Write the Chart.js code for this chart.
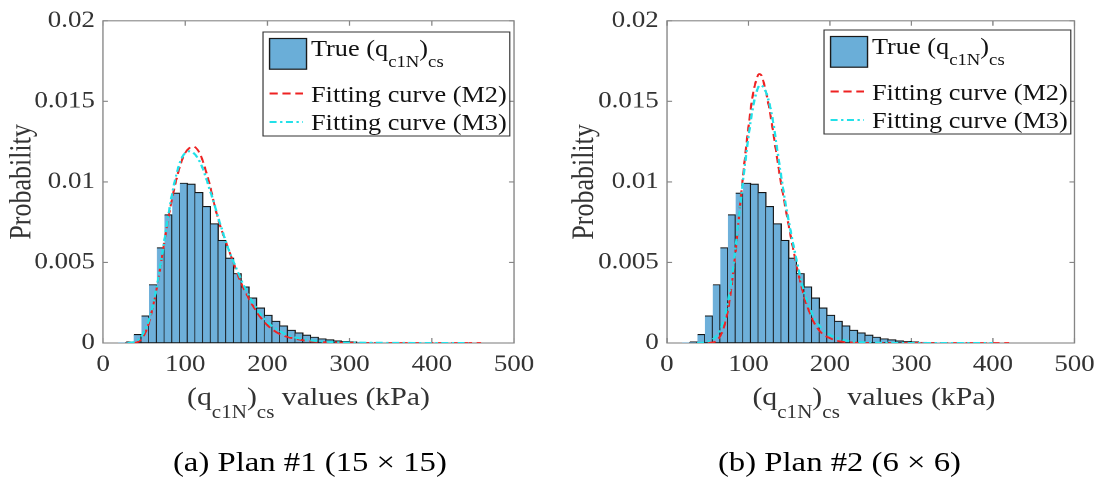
<!DOCTYPE html>
<html>
<head>
<meta charset="utf-8">
<script src="https://cdn.jsdelivr.net/npm/chart.js@4.4.1/dist/chart.umd.min.js"></script>
<style>
  html, body { margin: 0; padding: 0; background: #fff; }
  body { width: 1104px; height: 482px; overflow: hidden; position: relative; }
  /* the source figure is stretched sideways, so the whole thing is drawn narrow and scaled */
  #fig { position: absolute; left: 0; top: 0; width: 944px; height: 482px;
         transform: scaleX(1.16949); transform-origin: 0 0; }
  .panel { position: absolute; top: 0; width: 472px; height: 400px; }
  #overlay { position: absolute; left: 0; top: 0; }
  #overlay text { font-family: "Liberation Serif", "Times New Roman", serif; }
</style>
</head>
<body>
<div id="fig">
  <div class="panel" style="left:0"><canvas id="plan1" width="472" height="400"></canvas></div>
  <div class="panel" style="left:472px"><canvas id="plan2" width="472" height="400"></canvas></div>
  <svg id="overlay" width="944" height="482" viewBox="0 0 944 482">
    <!-- legend (a) -->
    <g transform="translate(224.9,32)">
      <rect x="0" y="0" width="211" height="104" fill="#fff" stroke="#333" stroke-width="1"/>
      <rect x="5.6" y="6.5" width="31.6" height="30.7" fill="#6aaed8" stroke="#1a1a1a" stroke-width="1.2"/>
      <text x="41" y="24.5" font-size="22.5" fill="#111">True (q<tspan font-size="16" dy="11">c1N</tspan><tspan dy="-11">)</tspan><tspan font-size="16" dy="11">cs</tspan></text>
      <line x1="5.6" y1="61.5" x2="34.2" y2="61.5" stroke="#ee2222" stroke-width="1.8" stroke-dasharray="7,4"/>
      <text x="41" y="70" font-size="22.5" fill="#111">Fitting curve (M2)</text>
      <line x1="5.6" y1="90" x2="34.2" y2="90" stroke="#22e0e8" stroke-width="2" stroke-dasharray="6,3,2,3"/>
      <text x="41" y="98.5" font-size="22.5" fill="#111">Fitting curve (M3)</text>
    </g>
    <!-- legend (b) -->
    <g transform="translate(704.6,30)">
      <rect x="0" y="0" width="211" height="104" fill="#fff" stroke="#333" stroke-width="1"/>
      <rect x="5.6" y="6.5" width="31.6" height="30.7" fill="#6aaed8" stroke="#1a1a1a" stroke-width="1.2"/>
      <text x="41" y="24.5" font-size="22.5" fill="#111">True (q<tspan font-size="16" dy="11">c1N</tspan><tspan dy="-11">)</tspan><tspan font-size="16" dy="11">cs</tspan></text>
      <line x1="5.6" y1="61.5" x2="34.2" y2="61.5" stroke="#ee2222" stroke-width="1.8" stroke-dasharray="7,4"/>
      <text x="41" y="70" font-size="22.5" fill="#111">Fitting curve (M2)</text>
      <line x1="5.6" y1="90" x2="34.2" y2="90" stroke="#22e0e8" stroke-width="2" stroke-dasharray="6,3,2,3"/>
      <text x="41" y="98.5" font-size="22.5" fill="#111">Fitting curve (M3)</text>
    </g>
    <!-- x axis titles -->
    <text x="263.8" y="405" font-size="25.5" fill="#333" text-anchor="middle">(q<tspan font-size="18" dy="13">c1N</tspan><tspan dy="-13">)</tspan><tspan font-size="18" dy="13">cs</tspan><tspan dy="-13"> values (kPa)</tspan></text>
    <text x="747.3" y="405" font-size="25.5" fill="#333" text-anchor="middle">(q<tspan font-size="18" dy="13">c1N</tspan><tspan dy="-13">)</tspan><tspan font-size="18" dy="13">cs</tspan><tspan dy="-13"> values (kPa)</tspan></text>
    <!-- captions -->
    <text x="265" y="471" font-size="28" fill="#000" text-anchor="middle">(a) Plan #1 (15 × 15)</text>
    <text x="717.8" y="471" font-size="28" fill="#000" text-anchor="middle">(b) Plan #2 (6 × 6)</text>
  </svg>
</div>

<script>
// Histogram bins of the true (qc1N)cs values, kPa (bin centres) and probability per bin.
// Both plans share the same true distribution.
const binCenters = [23.29, 32.66, 42.03, 51.40, 60.77, 70.14, 79.51, 88.88, 98.25, 107.62,
  116.99, 126.36, 135.73, 145.10, 154.47, 163.84, 173.21, 182.58, 191.95, 201.32,
  210.69, 220.06, 229.43, 238.80, 248.17, 257.54, 266.91, 276.28, 285.65, 295.02,
  304.39, 313.76, 323.13, 332.50];
const trueProb = [0.00002, 0.00008, 0.00054, 0.00169, 0.00363, 0.00592, 0.00797, 0.00931, 0.00993, 0.00987,
  0.00935, 0.00848, 0.00741, 0.00638, 0.00528, 0.00432, 0.00349, 0.00280, 0.00218, 0.00173,
  0.00136, 0.00107, 0.00080, 0.00064, 0.00050, 0.00037, 0.00027, 0.00021, 0.00014, 0.00010,
  0.00008, 0.00005, 0.00003, 0.00002];

// Plan #1 fitted curves
const plan1M2X = [38, 42, 46, 50, 55, 60, 65, 70, 75, 80, 85, 90, 95, 100, 105, 110, 115, 120, 125, 130,
  135, 140, 145, 150, 155, 160, 165, 170, 175, 180, 185, 190, 200, 210, 220, 230, 240, 250, 265, 280, 300, 330, 380, 460];
const plan1M2Y = [0, 0.00005, 0.0002, 0.0005, 0.0011, 0.0021, 0.0033, 0.0048, 0.0064, 0.0079, 0.0092, 0.0103, 0.0112, 0.0118, 0.0121, 0.0122, 0.0120, 0.0115, 0.0107, 0.0098,
  0.0087, 0.0077, 0.0069, 0.0062, 0.0055, 0.0048, 0.0041, 0.0035, 0.0030, 0.0025, 0.0021, 0.0017, 0.0011, 0.0007, 0.00045, 0.0003, 0.0002, 0.00012, 0.00006, 0.00003, 0.00001, 0, 0, 0];
const plan1M3X = [30, 35, 40, 45, 50, 55, 60, 65, 70, 75, 80, 85, 90, 95, 100, 105, 110, 115, 120, 125,
  130, 135, 140, 145, 150, 155, 160, 165, 170, 175, 180, 185, 190, 200, 210, 220, 230, 240, 250, 270, 300, 350, 400, 445];
const plan1M3Y = [0, 0.00003, 0.0001, 0.0003, 0.0007, 0.0013, 0.0022, 0.0034, 0.0049, 0.0065, 0.0081, 0.0095, 0.0106, 0.0114, 0.0118, 0.0119, 0.0118, 0.0115, 0.0110, 0.0103,
  0.0095, 0.0087, 0.0078, 0.0070, 0.0062, 0.0055, 0.0049, 0.0043, 0.0037, 0.0032, 0.0027, 0.0023, 0.0019, 0.0013, 0.0009, 0.0006, 0.0004, 0.00027, 0.00018, 0.00008, 0.00003, 0.00001, 0, 0];

// Plan #2 fitted curves
const plan2M2X = [50, 55, 60, 65, 70, 75, 80, 85, 90, 95, 100, 105, 110, 113, 116, 120, 125, 130, 135, 140,
  145, 150, 155, 160, 165, 170, 175, 180, 190, 200, 210, 220, 240, 260, 300, 360, 420];
const plan2M2Y = [0, 0.00003, 0.0001, 0.0004, 0.0010, 0.0021, 0.0038, 0.0061, 0.0087, 0.0112, 0.0134, 0.0153, 0.0164, 0.0167, 0.0166, 0.0159, 0.0147, 0.0132, 0.0115, 0.0099,
  0.0085, 0.0071, 0.0058, 0.0046, 0.0035, 0.0026, 0.0019, 0.0013, 0.0006, 0.0003, 0.00012, 0.00005, 0.00001, 0, 0, 0, 0];
const plan2M3X = [37, 45, 50, 55, 60, 65, 70, 75, 80, 85, 90, 95, 100, 105, 110, 114, 118, 122, 126, 130,
  135, 140, 145, 150, 155, 160, 165, 170, 175, 180, 190, 200, 210, 220, 240, 280, 320, 400];
const plan2M3Y = [0, 0.00003, 0.0001, 0.0002, 0.0004, 0.0008, 0.0015, 0.0026, 0.0042, 0.0063, 0.0086, 0.0108, 0.0128, 0.0145, 0.0156, 0.0160, 0.0159, 0.0155, 0.0148, 0.0138,
  0.0121, 0.0104, 0.0088, 0.0074, 0.0061, 0.0049, 0.0038, 0.0029, 0.0022, 0.0016, 0.0009, 0.0005, 0.0003, 0.00015, 0.00005, 0.00001, 0, 0];

const xTicks = [0, 100, 200, 300, 400, 500];
const yTicks = [0, 0.005, 0.01, 0.015, 0.02];
const yTickLabels = ["0", "0.005", "0.01", "0.015", "0.02"];

const AXIS = "#858585";
const TEXT = "#333";
Chart.defaults.font.family = '"Liberation Serif", "Times New Roman", serif';

const pts = (xs, ys) => xs.map((x, i) => ({ x, y: ys[i] }));

// MATLAB-style box with inward ticks on all four sides
const frame = {
  id: "frame",
  beforeDatasetsDraw(chart) {
    const { ctx, chartArea: a, scales: { x, y } } = chart;
    ctx.save();
    ctx.strokeStyle = AXIS;
    ctx.lineWidth = 1.1;
    ctx.strokeRect(a.left, a.top, a.right - a.left, a.bottom - a.top);
    ctx.beginPath();
    for (const t of x.ticks) {
      const px = x.getPixelForValue(t.value);
      ctx.moveTo(px, a.bottom); ctx.lineTo(px, a.bottom - 5);
      ctx.moveTo(px, a.top);    ctx.lineTo(px, a.top + 5);
    }
    for (const t of y.ticks) {
      const py = y.getPixelForValue(t.value);
      ctx.moveTo(a.left, py);  ctx.lineTo(a.left + 4.3, py);
      ctx.moveTo(a.right, py); ctx.lineTo(a.right - 4.3, py);
    }
    ctx.stroke();
    ctx.restore();
  }
};

function makePlan(canvasId, m2, m3, yAxisWidth, rightPad, titlePad) {
  new Chart(document.getElementById(canvasId), {
    type: "bar",
    data: {
      datasets: [
        {
          type: "line", label: "Fitting curve (M3)", data: m3, order: 1,
          borderColor: "#22e0e8", borderWidth: 2, borderDash: [6, 3, 2, 3],
          pointRadius: 0, cubicInterpolationMode: "monotone", fill: false
        },
        {
          type: "line", label: "Fitting curve (M2)", data: m2, order: 2,
          borderColor: "#ee2222", borderWidth: 1.8, borderDash: [7, 4],
          pointRadius: 0, cubicInterpolationMode: "monotone", fill: false
        },
        {
          label: "True (qc1N)cs", data: pts(binCenters, trueProb), order: 3,
          backgroundColor: "#6eb0da", borderColor: "#141414", borderWidth: 1.1,
          borderSkipped: "left", categoryPercentage: 1, barPercentage: 1
        }
      ]
    },
    options: {
      responsive: false,
      animation: false,
      devicePixelRatio: 2,
      layout: { padding: { left: 0, right: rightPad, top: 19, bottom: 0 } },
      plugins: { legend: { display: false }, tooltip: { enabled: false } },
      scales: {
        x: {
          type: "linear", min: 0, max: 500, offset: false,
          grid: { display: false, drawTicks: false, offset: false },
          border: { display: false },
          afterBuildTicks: (s) => { s.ticks = xTicks.map(v => ({ value: v })); },
          afterFit: (s) => { s.height = 57; },
          ticks: { autoSkip: false, maxRotation: 0, padding: 8, color: TEXT, font: { size: 23 } }
        },
        y: {
          min: 0, max: 0.02,
          grid: { display: false, drawTicks: false },
          border: { display: false },
          afterBuildTicks: (s) => { s.ticks = yTicks.map(v => ({ value: v })); },
          afterFit: (s) => { s.width = yAxisWidth; },
          ticks: {
            padding: 7, color: TEXT, font: { size: 23 },
            callback: (v) => yTickLabels[yTicks.indexOf(v)] ?? ""
          },
          title: { display: true, text: "Probability", color: TEXT, font: { size: 26 }, padding: { top: titlePad, bottom: 0 } }
        }
      }
    },
    plugins: [frame]
  });
}

makePlan("plan1", pts(plan1M2X, plan1M2Y), pts(plan1M3X, plan1M3Y), 88.07, 32.5, 3.4);
makePlan("plan2", pts(plan2M2X, plan2M2Y), pts(plan2M3X, plan2M3Y), 98.3, 19.7, 12.7);
</script>
</body>
</html>
